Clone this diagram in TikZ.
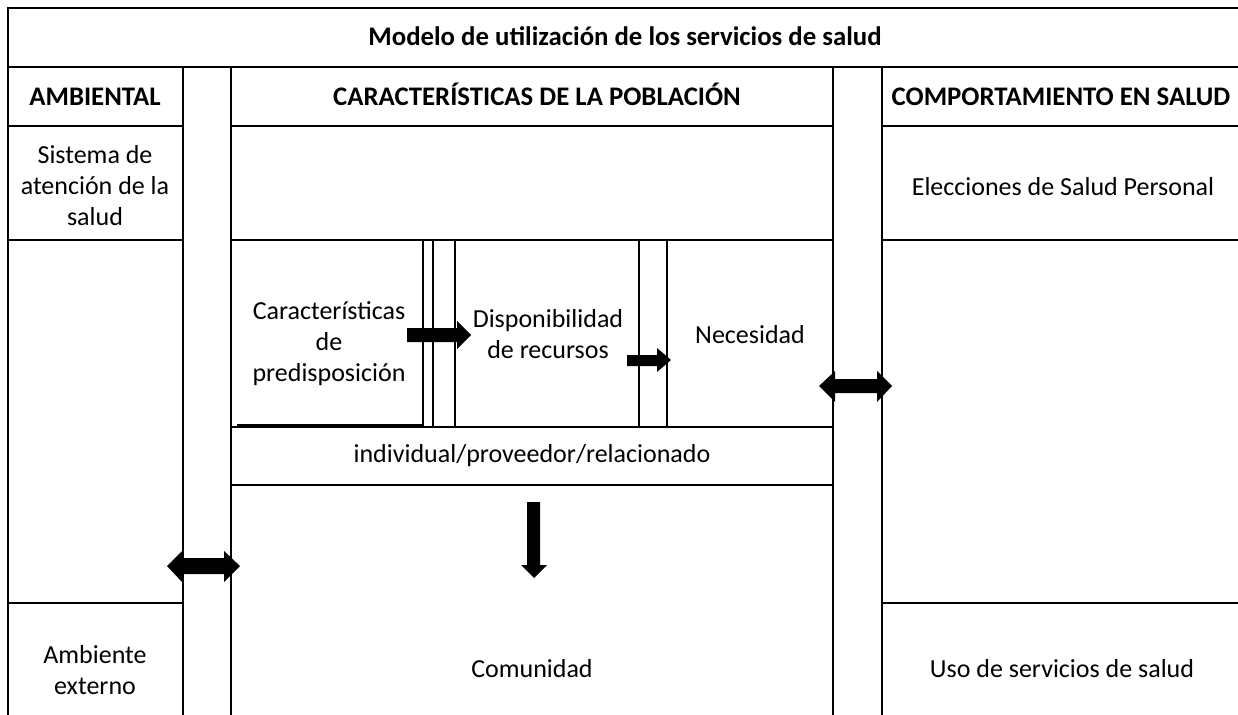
\documentclass[tikz,border=0pt]{standalone}
\usepackage{fontspec}
\setmainfont{Carlito}
\begin{document}
\begin{tikzpicture}[x=1pt,y=-1pt,
  rule/.style={line width=2.4pt, line cap=rect},
  thin rule/.style={line width=2.2pt},
  lbl/.style={align=center, inner sep=0pt, font=\fontsize{26}{31}\selectfont},
  hdr/.style={align=center, inner sep=0pt, anchor=base, font=\fontsize{26.8}{31}\selectfont\bfseries},
  blk/.style={fill=black, draw=none}]
\useasboundingbox (0,0) rectangle (1238,714);
% outer lines
\draw[rule] (8,714) -- (8,8) -- (1245,8);
\draw[rule] (8,67) -- (1245,67);
% vertical column lines
\draw[rule] (183,67) -- (183,720);
\draw[rule] (231,67) -- (231,720);
\draw[rule] (833,67) -- (833,720);
\draw[rule] (882,67) -- (882,720);
% horizontal row lines
\draw[rule] (8,126) -- (183,126);
\draw[rule] (231,126) -- (833,126);
\draw[rule] (882,126) -- (1245,126);
\draw[rule] (8,240) -- (183,240);
\draw[rule] (231,240) -- (833,240);
\draw[rule] (882,240) -- (1245,240);
\draw[rule] (231,427) -- (833,427);
\draw[thin rule] (237,425) -- (423,425);
\draw[rule] (231,485) -- (833,485);
\draw[rule] (8,603) -- (183,603);
\draw[rule] (882,603) -- (1245,603);
% inner vertical lines
\draw[thin rule] (423,240) -- (423,427);
\draw[thin rule] (433,240) -- (433,427);
\draw[thin rule] (455,240) -- (455,427);
\draw[thin rule] (639,240) -- (639,427);
\draw[thin rule] (667,240) -- (667,427);
% texts
\node[hdr] (title) at (625,46) {Modelo de utilización de los servicios de salud};
\node[hdr] (amb) at (95,106) {AMBIENTAL};
\node[hdr] (carpob) at (537,106) {CARACTERÍSTICAS DE LA POBLACIÓN};
\node[hdr] (comp) at (1061,106) {COMPORTAMIENTO EN SALUD};
\node[lbl] (sis) at (95,186) {Sistema de\\atención de la\\salud};
\node[lbl] (elec) at (1063,187) {Elecciones de Salud Personal};
\node[lbl] (pred) at (329,344) {Características\\de\\predisposición};
\node[lbl] (disp) at (548,334) {Disponibilidad\\de recursos};
\node[lbl] (nec) at (750,335) {Necesidad};
\node[lbl] (ind) at (532,456) {individual/proveedor/relacionado};
\node[lbl] (com) at (532,669) {Comunidad};
\node[lbl] (ext) at (95,670) {Ambiente\\externo};
\node[lbl] (uso) at (1062,669) {Uso de servicios de salud};
% block arrows
\fill[blk] (407,328) -- (457,328) -- (457,321) -- (471,335) -- (457,349) -- (457,342) -- (407,342) -- cycle;
\fill[blk] (627,355) -- (657,355) -- (657,348) -- (671,360) -- (657,372) -- (657,366) -- (627,366) -- cycle;
\fill[blk] (819,386) -- (835,371) -- (835,379) -- (877,379) -- (877,371) -- (892,386) -- (877,402) -- (877,393) -- (835,393) -- (835,402) -- cycle;
\fill[blk] (167,566) -- (182,551) -- (182,558) -- (224,558) -- (224,551) -- (240,566) -- (224,582) -- (224,574) -- (182,574) -- (182,582) -- cycle;
\fill[blk] (527,502) -- (540,502) -- (540,565) -- (547,565) -- (534,578) -- (521,565) -- (527,565) -- cycle;
\end{tikzpicture}
\end{document}
